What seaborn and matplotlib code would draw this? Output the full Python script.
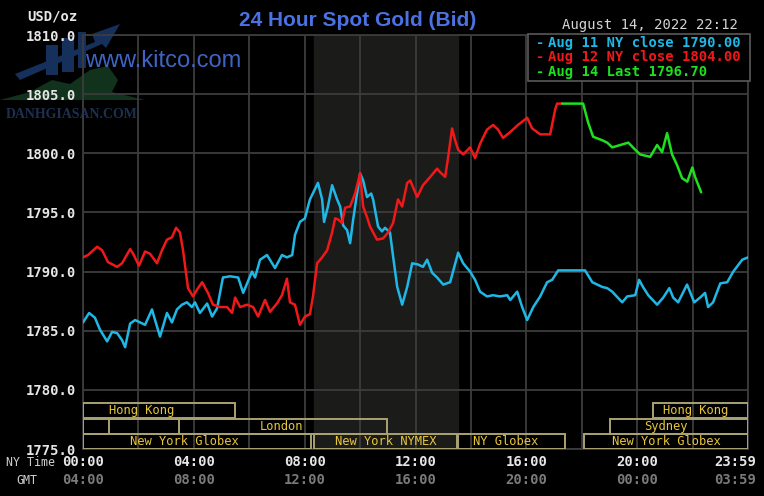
import matplotlib
matplotlib.use("Agg")
import matplotlib.pyplot as plt
from matplotlib.patches import Rectangle, Polygon
import pandas as pd
import seaborn as sns

# ── Data (hours after 00:00 NY time, price in USD/oz) ────────────────
AUG11_HOURS = [0.00, 0.22, 0.43, 0.61, 0.87, 1.05, 1.23, 1.41, 1.52, 1.70, 1.88, 2.06,
               2.24, 2.49, 2.60, 2.78, 3.03, 3.21, 3.39, 3.57, 3.75, 3.93, 4.04, 4.22,
               4.48, 4.66, 4.84, 5.05, 5.31, 5.60, 5.78, 6.10, 6.21, 6.39, 6.64, 6.93,
               7.18, 7.36, 7.55, 7.65, 7.83, 8.01, 8.19, 8.48, 8.63, 8.70, 8.84, 8.99,
               9.17, 9.28, 9.39, 9.53, 9.64, 9.75, 9.89, 10.00, 10.11, 10.25, 10.40,
               10.47, 10.65, 10.79, 10.90, 11.08, 11.19, 11.34, 11.52, 11.70, 11.88,
               12.09, 12.27, 12.42, 12.60, 12.78, 13.00, 13.25, 13.54, 13.72, 13.97,
               14.15, 14.33, 14.58, 14.80, 15.05, 15.31, 15.42, 15.67, 15.85, 16.03,
               16.25, 16.50, 16.75, 16.93, 17.15, 17.47, 18.12, 18.38, 18.56, 18.74,
               18.92, 19.10, 19.46, 19.64, 19.93, 20.07, 20.21, 20.40, 20.72, 20.94,
               21.16, 21.30, 21.48, 21.80, 22.06, 22.27, 22.45, 22.56, 22.74, 23.00,
               23.25, 23.47, 23.79, 24.00]
AUG11_PRICE = [1785.7, 1786.5, 1786.1, 1785.1, 1784.1, 1784.9, 1784.8, 1784.2, 1783.6,
               1785.6, 1785.9, 1785.7, 1785.5, 1786.8, 1785.9, 1784.5, 1786.5, 1785.7,
               1786.8, 1787.2, 1787.4, 1787.0, 1787.4, 1786.5, 1787.3, 1786.2, 1786.9,
               1789.5, 1789.6, 1789.5, 1788.2, 1790.0, 1789.5, 1791.0, 1791.4, 1790.3,
               1791.4, 1791.2, 1791.4, 1793.1, 1794.2, 1794.5, 1796.1, 1797.5, 1796.1,
               1794.2, 1795.5, 1797.3, 1796.1, 1795.5, 1793.9, 1793.5, 1792.4, 1794.4,
               1796.6, 1798.3, 1797.7, 1796.3, 1796.6, 1796.1, 1793.8, 1793.4, 1793.7,
               1793.3, 1791.3, 1788.7, 1787.2, 1788.7, 1790.7, 1790.6, 1790.4, 1791.0,
               1789.9, 1789.5, 1788.9, 1789.1, 1791.6, 1790.7, 1790.0, 1789.3, 1788.3,
               1787.9, 1788.0, 1787.9, 1788.0, 1787.6, 1788.3, 1787.0, 1785.9, 1787.0,
               1787.9, 1789.1, 1789.3, 1790.1, 1790.1, 1790.1, 1789.1, 1788.9, 1788.7,
               1788.6, 1788.3, 1787.4, 1787.9, 1788.0, 1789.3, 1788.7, 1788.0, 1787.2,
               1787.8, 1788.6, 1787.8, 1787.4, 1788.9, 1787.4, 1787.8, 1788.2, 1787.0,
               1787.4, 1789.0, 1789.1, 1790.0, 1791.0, 1791.2]

AUG12_HOURS = [0.00, 0.18, 0.51, 0.69, 0.90, 1.23, 1.41, 1.70, 1.81, 2.02, 2.24, 2.42,
               2.67, 2.85, 3.03, 3.21, 3.36, 3.50, 3.61, 3.79, 3.97, 4.15, 4.30, 4.51,
               4.69, 4.95, 5.20, 5.38, 5.49, 5.67, 5.92, 6.14, 6.32, 6.57, 6.75, 7.00,
               7.18, 7.36, 7.47, 7.65, 7.83, 8.01, 8.19, 8.30, 8.45, 8.63, 8.81, 8.99,
               9.10, 9.21, 9.35, 9.46, 9.64, 9.82, 10.00, 10.11, 10.25, 10.36, 10.61,
               10.83, 11.01, 11.19, 11.37, 11.52, 11.70, 11.81, 12.06, 12.27, 12.53,
               12.78, 12.89, 13.07, 13.18, 13.32, 13.43, 13.54, 13.72, 13.97, 14.15,
               14.33, 14.58, 14.80, 14.98, 15.16, 15.42, 15.70, 16.03, 16.21, 16.50,
               16.86, 17.04, 17.11, 17.29]
AUG12_PRICE = [1791.2, 1791.4, 1792.1, 1791.8, 1790.8, 1790.4, 1790.7, 1791.9, 1791.5,
               1790.5, 1791.7, 1791.5, 1790.7, 1791.8, 1792.7, 1792.9, 1793.7, 1793.3,
               1791.8, 1788.6, 1787.9, 1788.6, 1789.1, 1788.2, 1787.2, 1787.0, 1787.0,
               1786.5, 1787.8, 1787.0, 1787.2, 1787.0, 1786.2, 1787.6, 1786.6, 1787.3,
               1788.0, 1789.4, 1787.4, 1787.2, 1785.5, 1786.2, 1786.4, 1787.9, 1790.7,
               1791.2, 1791.8, 1793.3, 1794.5, 1794.4, 1794.1, 1795.4, 1795.5, 1796.6,
               1798.3, 1795.5, 1794.6, 1793.8, 1792.7, 1792.8, 1793.3, 1794.1, 1796.1,
               1795.5, 1797.5, 1797.7, 1796.3, 1797.3, 1798.0, 1798.7, 1798.4, 1798.0,
               1799.7, 1802.1, 1801.1, 1800.3, 1799.9, 1800.5, 1799.6, 1800.8, 1802.0,
               1802.4, 1802.0, 1801.3, 1801.8, 1802.4, 1803.0, 1802.1, 1801.6, 1801.6,
               1803.7, 1804.2, 1804.2]

AUG14_HOURS = [17.29, 18.05, 18.23, 18.41, 18.74, 18.92, 19.10, 19.39, 19.68, 19.93,
               20.11, 20.47, 20.72, 20.90, 21.08, 21.26, 21.44, 21.62, 21.81, 21.99,
               22.09, 22.31]
AUG14_PRICE = [1804.2, 1804.2, 1802.6, 1801.4, 1801.1, 1800.9, 1800.5, 1800.7, 1800.9,
               1800.3, 1799.9, 1799.7, 1800.7, 1800.1, 1801.7, 1799.9, 1799.0, 1797.9,
               1797.6, 1798.8, 1798.0, 1796.7]

LEGEND_LABELS = ["Aug 11 NY close 1790.00", "Aug 12 NY close 1804.00",
                 "Aug 14 Last 1796.70"]

NYMEX_OPEN, NYMEX_CLOSE = 8.33, 13.53

Y_TICKS = [1775, 1780, 1785, 1790, 1795, 1800, 1805, 1810]
X_TICKS = [0, 4, 8, 12, 16, 20, 24]
NY_LABELS = ["00:00", "04:00", "08:00", "12:00", "16:00", "20:00", "23:59"]
GMT_LABELS = ["04:00", "08:00", "12:00", "16:00", "20:00", "00:00", "03:59"]

# trading sessions: name, start hour, end hour, row (0 = top), label centre hour
SESSION_NAMES = ["Hong Kong", "", "London", "New York Globex", "New York NYMEX",
                 "NY Globex", "Hong Kong", "Sydney", "New York Globex"]
SESSION_START = [0.0, 0.94, 0.0, 0.0, 8.33, 13.53, 20.58, 19.03, 18.09]
SESSION_END = [5.49, 3.47, 10.97, 8.23, 13.50, 17.40, 24.0, 24.0, 24.0]
SESSION_ROW = [0, 1, 1, 2, 2, 2, 0, 1, 2]
SESSION_LABEL_AT = [2.12, 0, 7.17, 3.65, 10.94, 15.25, 22.11, 21.03, 21.05]

# ── Style ────────────────────────────────────────────────────────────
W, H = 764, 496
BG = "#000000"
GRID = "#3c3c3c"
CYAN, RED, GREEN = "#1fb8e6", "#f01818", "#1ee01e"
SESSION_EDGE = "#aaa272"
SESSION_TEXT = "#e8c53a"
MONO = ["DejaVu Sans Mono"]

sns.set_theme(style="dark")
plt.rcParams["font.family"] = ["DejaVu Sans"]

fig = plt.figure(figsize=(W / 100, H / 100), dpi=100, facecolor=BG)
L, R, T, B = 83, 748, 35, 449
ax = fig.add_axes([L / W, 1 - B / H, (R - L) / W, (B - T) / H])
ax.set_facecolor(BG)

ax.axvspan(NYMEX_OPEN, NYMEX_CLOSE, color="#1b1b19", zorder=0)

df11 = pd.DataFrame({"hour": AUG11_HOURS, "price": AUG11_PRICE})
df12 = pd.DataFrame({"hour": AUG12_HOURS, "price": AUG12_PRICE})
df14 = pd.DataFrame({"hour": AUG14_HOURS, "price": AUG14_PRICE})
for d, c in ((df11, CYAN), (df12, RED), (df14, GREEN)):
    sns.lineplot(data=d, x="hour", y="price", ax=ax, color=c, linewidth=1.8,
                 estimator=None, sort=False, zorder=3)

ax.set_xlim(0, 24)
ax.set_ylim(1775, 1810)
ax.set_xticks(list(range(0, 25, 2)))
ax.set_xticklabels([])
ax.set_yticks(Y_TICKS)
ax.set_yticklabels([f"{v:.1f}" for v in Y_TICKS], family=MONO, fontsize=10,
                   fontweight="bold", color="#e6e6e6")
ax.tick_params(length=0, pad=5)
ax.set_xlabel("")
ax.set_ylabel("")
ax.grid(True, color=GRID, linewidth=1.3, zorder=1)
ax.set_axisbelow(True)
for s in ax.spines.values():
    s.set_color(GRID)
    s.set_linewidth(1.3)

# session bars along the bottom of the plot
xt = ax.get_xaxis_transform()
row_bounds = [(0.0749, 0.111), (0.0362, 0.0725), (0.0, 0.0362)]
for name, x0, x1, row, lx in zip(SESSION_NAMES, SESSION_START, SESSION_END,
                                  SESSION_ROW, SESSION_LABEL_AT):
    y0, y1 = row_bounds[row]
    ax.add_patch(Rectangle((x0, y0), x1 - x0, y1 - y0, transform=xt, fill=False,
                           edgecolor=SESSION_EDGE, linewidth=1.4, zorder=4))
    if name:
        ax.text(lx, (y0 + y1) / 2, name, transform=xt, ha="center", va="center",
                family=MONO, fontsize=8.7, color=SESSION_TEXT, zorder=5)

# x tick labels: NY time and GMT
for x, ny, gmt in zip(X_TICKS, NY_LABELS, GMT_LABELS):
    off = -13 if x == 24 else 0
    ax.annotate(ny, (x, -0.0326), xycoords=xt, xytext=(off, 0),
                textcoords="offset pixels", ha="center", va="center",
                family=MONO, fontsize=10, fontweight="bold", color="#e6e6e6",
                annotation_clip=False)
    ax.annotate(gmt, (x, -0.0749), xycoords=xt, xytext=(off, 0),
                textcoords="offset pixels", ha="center", va="center",
                family=MONO, fontsize=10, fontweight="bold", color="#7a7a7a",
                annotation_clip=False)


def fx(px):
    return px / W


def fy(py):
    return 1 - py / H


def logo_poly(points, color):
    # decorative watermark shape, given in pixel coordinates, kept under the grid
    ax.add_patch(Polygon([(fx(x), fy(y)) for x, y in points], closed=True,
                         transform=fig.transFigure, facecolor=color,
                         edgecolor="none", clip_on=False, zorder=0.3))


fig.text(fx(6), fy(463), "NY Time", family=MONO, fontsize=8.4, color="#cfcfcf",
         ha="left", va="center")
fig.text(fx(27), fy(480), "GMT", family=MONO, fontsize=8.4, color="#cfcfcf",
         ha="center", va="center")
fig.text(fx(27), fy(17), "USD/oz", family=MONO, fontsize=10, fontweight="bold",
         color="#e6e6e6", ha="left", va="center")

# title and timestamp
fig.text(fx(358), fy(20), "24 Hour Spot Gold (Bid)", family=["Liberation Sans", "DejaVu Sans"],
         fontsize=15, fontweight="bold", color="#4a72e2", ha="center", va="center")
fig.text(fx(738), fy(25), "August 14, 2022 22:12", family=MONO, fontsize=10,
         color="#d4d4d4", ha="right", va="center")

# watermark logo (rough)
logo_poly([(0, 100), (30, 92), (52, 80), (70, 84), (90, 70), (108, 66), (118, 80),
           (112, 92), (145, 100)], "#11321c")
logo_poly([(46, 75), (46, 45), (58, 45), (58, 75)], "#15305a")
logo_poly([(62, 72), (62, 38), (74, 38), (74, 72)], "#15305a")
logo_poly([(78, 68), (78, 32), (86, 32), (86, 68)], "#15305a")
logo_poly([(15, 74), (95, 42), (92, 34), (120, 24), (106, 48), (102, 44), (20, 80)],
          "#15305a")

ax.text(fx(85), fy(61), "www.kitco.com", transform=fig.transFigure,
        family=["Liberation Sans", "DejaVu Sans"], fontsize=17, color="#4670d8",
        alpha=0.9, ha="left", va="center", zorder=6, clip_on=False)
fig.text(fx(6), fy(114), "DANHGIASAN.COM", family=["Liberation Serif", "DejaVu Serif"],
         fontsize=10, fontweight="bold", color="#1d3050", ha="left", va="center")

# legend box
fig.patches.append(Rectangle((fx(528), fy(81)), fx(750) - fx(528), fy(34) - fy(81),
                             transform=fig.transFigure, facecolor=BG,
                             edgecolor="#5a5a5a", linewidth=1.2, zorder=8))
for i, (lab, c) in enumerate(zip(LEGEND_LABELS, (CYAN, RED, GREEN))):
    y = fy(43 + 14.5 * i)
    fig.text(fx(540), y, "-", family=MONO, fontsize=10, fontweight="bold", color=c,
             ha="center", va="center", zorder=9)
    fig.text(fx(548), y, lab, family=MONO, fontsize=10, fontweight="bold", color=c,
             ha="left", va="center", zorder=9)

fig.savefig("out.png", dpi=100, facecolor=BG)
